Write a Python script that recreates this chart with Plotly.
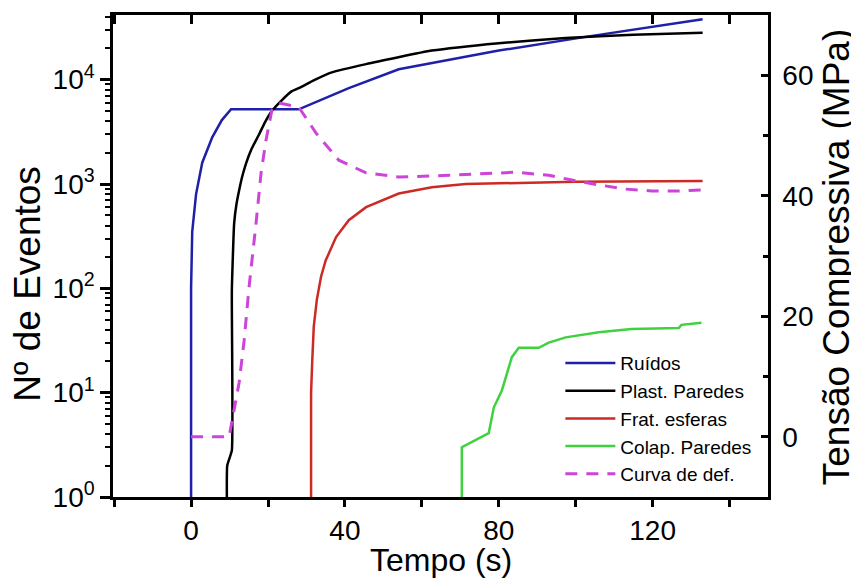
import plotly.graph_objects as go

# ---------------- data ----------------
t_ruidos = [0, 0, 0.3, 1.3, 2.9, 5.5, 8.0, 10.4, 28, 41, 54, 80, 103.4, 120, 133]
n_ruidos = [1, 100, 350, 800, 1600, 2800, 4100, 5200, 5200, 8300, 12600, 19000, 26000, 32000, 38000]

t_plast = [9.3, 9.4, 10.6, 10.6, 11.2, 11.8, 12.5, 13.3, 14.3, 15.8, 17.7, 19.2, 21, 23.5, 26.2,
           28, 32, 36.6, 45.5, 62.6, 80, 97.4, 115, 133]
n_plast = [1, 2, 2.8, 95, 420, 640, 870, 1180, 1580, 2200, 3000, 3900, 5000, 6300, 7760,
           8300, 9900, 11750, 14100, 19000, 22400, 25100, 26900, 28200]

t_frat = [31.2, 31.2, 31.5, 31.9, 32.7, 33.8, 35, 37.7, 41, 45.5, 54, 62.6, 71.4, 80, 100, 133]
n_frat = [1, 10, 20, 43, 78, 130, 185, 310, 450, 600, 810, 930, 1000, 1020, 1050, 1070]

t_colap = [70.4, 70.4, 77.4, 78.7, 80.8, 81.8, 83.4, 85.2, 90.4, 93, 97.4, 106, 114.5, 126.8, 127.5, 132.7]
n_colap = [1, 3, 4.1, 7.2, 10.5, 14.1, 21.9, 26.9, 26.9, 30.2, 33.9, 38, 40.7, 41.7, 44.7, 46.8]

t_def = [0, 9.9, 11.2, 12.5, 13.8, 15.1, 16.9, 18.2, 19.5, 21, 22.9, 28, 32.5, 38.4, 45.5, 54, 67,
         84.4, 93, 99, 106, 113, 119.7, 126.8, 134]
mpa_def = [0, 0, 4.5, 9, 16, 25, 35.5, 43.8, 49.3, 54.2, 55.4, 54.7, 50.4, 45.9, 43.8, 43.1, 43.4,
           43.9, 43.4, 42.6, 41.8, 41.1, 40.8, 40.8, 41.0]

x_tickvals = [-20, 0, 20, 40, 60, 80, 100, 120, 140]
x_ticktext = ["", "0", "", "40", "", "80", "", "120", ""]

y_tickvals = [1, 10, 100, 1000, 10000]
y_ticktext = ["10<sup>0</sup>", "10<sup>1</sup>", "10<sup>2</sup>", "10<sup>3</sup>", "10<sup>4</sup>"]
y_minor = [k * 10 ** d for d in range(5) for k in range(2, 10) if k * 10 ** d < 42000]

y2_tickvals = [0, 20, 40, 60]
y2_minor = [10, 30, 50]

names = ["Ruídos", "Plast. Paredes", "Frat. esferas", "Colap. Paredes", "Curva de def."]

# ---------------- figure ----------------
FONT = "Liberation Sans, Arial, Helvetica, sans-serif"
BLUE = "#1f1fa8"
BLACK = "#000000"
RED = "#cc2a24"
GREEN = "#3fd23f"
MAG = "#cc44d8"

fig = go.Figure()
fig.add_trace(go.Scatter(x=t_ruidos, y=n_ruidos, name=names[0], mode="lines",
                         line=dict(color=BLUE, width=2.5)))
fig.add_trace(go.Scatter(x=t_plast, y=n_plast, name=names[1], mode="lines",
                         line=dict(color=BLACK, width=2.5, shape="spline", smoothing=0.4)))
fig.add_trace(go.Scatter(x=t_frat, y=n_frat, name=names[2], mode="lines",
                         line=dict(color=RED, width=2.5)))
fig.add_trace(go.Scatter(x=t_colap, y=n_colap, name=names[3], mode="lines",
                         line=dict(color=GREEN, width=2.5)))
fig.add_trace(go.Scatter(x=t_def, y=mpa_def, name=names[4], mode="lines", yaxis="y2",
                         line=dict(color=MAG, width=3, dash="12px,9px")))
# helper so the top (mirror) axis is drawn
fig.add_trace(go.Scatter(x=[None], y=[None], xaxis="x2", yaxis="y", showlegend=False,
                         hoverinfo="skip"))

axis_common = dict(showgrid=False, zeroline=False, showline=True, linecolor="black",
                   linewidth=2.5, tickcolor="black", tickwidth=2.5)

# the page body adds an 8 px offset, margins compensate for it
fig.update_layout(
    width=859, height=580,
    margin=dict(l=105, r=99, t=7, b=91),
    paper_bgcolor="white", plot_bgcolor="white",
    font=dict(family=FONT, color="black", size=28),
    showlegend=True,
    legend=dict(x=0.683, xanchor="left", y=0.008, yanchor="bottom",
                bgcolor="rgba(255,255,255,0)", font=dict(size=19, family=FONT),
                itemwidth=50, tracegroupgap=0),
    xaxis=dict(range=[-20.3, 150], tickmode="array", tickvals=x_tickvals, ticktext=x_ticktext,
               ticks="outside", ticklen=7, tickfont=dict(size=28), **axis_common),
    xaxis2=dict(range=[-20.3, 150], overlaying="x", side="top", anchor="y", tickmode="array",
                tickvals=x_tickvals, showticklabels=False, ticks="inside", ticklen=9,
                **axis_common),
    yaxis=dict(type="log", range=[0, 4.62], tickmode="array", tickvals=y_tickvals,
               ticktext=y_ticktext, ticks="outside", ticklen=10, tickfont=dict(size=28),
               minor=dict(tickmode="array", tickvals=y_minor, ticks="outside", ticklen=5,
                          tickwidth=1.8, tickcolor="black"),
               **axis_common),
    yaxis2=dict(range=[-10, 70], overlaying="y", side="right", anchor="x", tickmode="array",
                tickvals=y2_tickvals, ticks="inside", ticklen=7, tickfont=dict(size=28),
                ticklabelstandoff=6,
                minor=dict(tickmode="array", tickvals=y2_minor, ticks="inside", ticklen=5,
                           tickwidth=2.5, tickcolor="black"),
                **axis_common),
    annotations=[
        dict(text="Tempo (s)", xref="paper", yref="paper", x=0.5, y=-0.131,
             xanchor="center", yanchor="middle", showarrow=False, font=dict(size=32)),
        dict(text="Nº de Eventos", xref="paper", yref="paper", x=-0.13, y=0.442,
             xanchor="center", yanchor="middle", textangle=-90, showarrow=False,
             font=dict(size=37)),
        dict(text="Tensão Compressiva (MPa)", xref="paper", yref="paper", x=1.105, y=0.497,
             xanchor="center", yanchor="middle", textangle=-90, showarrow=False,
             font=dict(size=37)),
    ],
)

fig.write_html("out.html")
